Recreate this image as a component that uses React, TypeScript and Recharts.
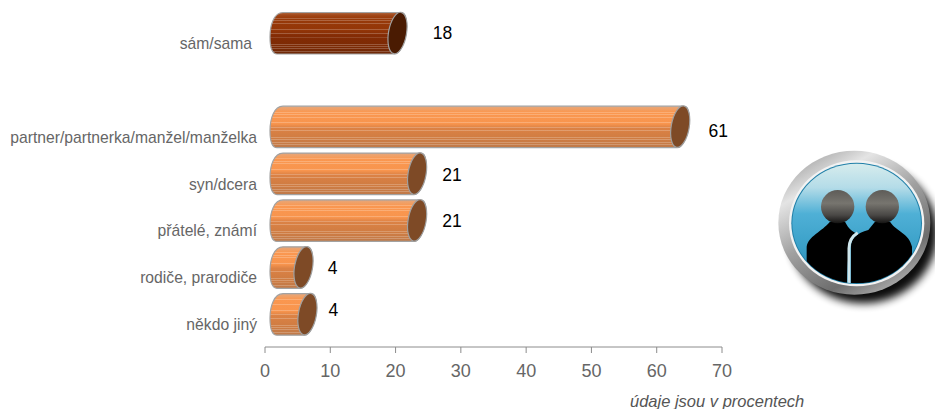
import { BarChart, Bar, XAxis, YAxis, LabelList } from "recharts";

const categories = ["sám/sama", "", "partner/partnerka/manžel/manželka", "syn/dcera", "přátelé, známí", "rodiče, prarodiče", "někdo jiný"];
const shares = [18, null, 61.3, 21, 21, 3.6, 4.2];
const xTicks = [0, 10, 20, 30, 40, 50, 60, 70];

const data = categories.map((name, i) => ({ name, value: shares[i] }));

const FONT = '"Liberation Sans", Arial, sans-serif';
// label placement next to the cylinders (labelled bars only, the empty row has no label)
const labelDx = [60, 53, 50, 50, 44, 41];
const labelDy = [0, 4, 1, 1, 1, -4];

const stripeOffsets = [0.13, 0.19, 0.25, 0.39, 0.5, 0.58, 0.75, 0.8, 0.86, 0.92];

const orangeStops: [number, string][] = [
  [0, "#e3a77e"], [0.07, "#f0a066"], [0.14, "#fa9750"], [0.42, "#f8954e"], [0.52, "#dc8245"], [0.78, "#cf7c42"], [1, "#bf7a4a"],
];
const brownStops: [number, string][] = [
  [0, "#ad6a44"], [0.06, "#a2481a"], [0.14, "#983a0a"], [0.42, "#933608"], [0.55, "#842c05"], [0.85, "#7a2904"], [1, "#6d2808"],
];

function Cylinder(props: any) {
  const { x, y, width, height, payload, index } = props;
  if (payload.value == null) return null;
  const dark = index === 0;
  const top = y + 0.5;
  const bot = y + height;
  const mid = y + height / 2;
  const left = x + 5;
  const cx = x + width + 15;
  const d = `M${left + 13},${top} L${cx + 4},${top} C${cx + 14},${top} ${cx + 8},${bot} ${cx - 3},${bot} L${left + 7},${bot} C${left + 1},${bot} ${left},${mid + 12} ${left},${mid + 4} C${left},${mid - 8} ${left + 4},${top} ${left + 13},${top} Z`;
  return (
    <g>
      <path d={d} fill={dark ? "url(#brownBody)" : "url(#orangeBody)"} />
      <path d={d} fill="url(#stripes)" stroke="#a2a2a2" strokeWidth={1.2} />
      <ellipse
        cx={cx}
        cy={mid}
        rx={9}
        ry={21}
        transform={`rotate(10 ${cx} ${mid})`}
        fill={dark ? "#4a1b02" : "#7e4a26"}
        stroke="#a0a0a0"
        strokeWidth={1.2}
      />
    </g>
  );
}

function ValueLabel(props: any) {
  const { x, y, width, height, value, index } = props;
  if (value == null) return null;
  return (
    <text
      x={x + width + labelDx[index]}
      y={y + height / 2 + labelDy[index]}
      textAnchor="middle"
      dominantBaseline="central"
      fontFamily={FONT}
      fontSize={17.5}
      fill="#000"
    >
      {Math.round(value)}
    </text>
  );
}

function CategoryTick(props: any) {
  const { x, y, payload, index } = props;
  return (
    <text
      x={x - (index === 0 ? 5 : 0)}
      y={y + 10}
      textAnchor="end"
      dominantBaseline="central"
      fontFamily={FONT}
      fontSize={15.7}
      fill="#666"
    >
      {payload.value}
    </text>
  );
}

function PeopleIcon() {
  return (
    <svg
      width={170}
      height={170}
      viewBox="0 0 510 510"
      style={{ position: "absolute", left: 765, top: 150 }}
    >
      <defs>
        <linearGradient id="ring" x1="0.15" y1="0" x2="0.75" y2="1">
          <stop offset="0" stopColor="#9a9a9a" />
          <stop offset="0.22" stopColor="#e4e4e4" />
          <stop offset="0.5" stopColor="#a0a0a0" />
          <stop offset="0.8" stopColor="#6e6e6e" />
          <stop offset="1" stopColor="#b4b4b4" />
        </linearGradient>
        <linearGradient id="glass" x1="0" y1="0" x2="0" y2="1">
          <stop offset="0" stopColor="#d6eced" />
          <stop offset="0.2" stopColor="#b4dce8" />
          <stop offset="0.42" stopColor="#4fb0d6" />
          <stop offset="0.7" stopColor="#3aa0c8" />
          <stop offset="1" stopColor="#2a86b0" />
        </linearGradient>
        <linearGradient id="head" x1="0" y1="0" x2="0" y2="1">
          <stop offset="0" stopColor="#5e5c58" />
          <stop offset="0.4" stopColor="#77756f" />
          <stop offset="0.75" stopColor="#4a4846" />
          <stop offset="1" stopColor="#141312" />
        </linearGradient>
        <filter id="blur" x="-20%" y="-20%" width="140%" height="140%">
          <feGaussianBlur stdDeviation="13" />
        </filter>
        <clipPath id="glassClip">
          <ellipse cx={275} cy={220} rx={194} ry={180} />
        </clipPath>
      </defs>
      <ellipse cx={295} cy={250} rx={222} ry={210} fill="#000" opacity={0.95} filter="url(#blur)" />
      <ellipse cx={268} cy={218} rx={228} ry={216} fill="url(#ring)" />
      <ellipse cx={275} cy={220} rx={203} ry={189} fill="#f2f2f2" />
      <ellipse cx={275} cy={220} rx={196} ry={182} fill="#1f7fa8" />
      <ellipse cx={275} cy={220} rx={193} ry={179} fill="url(#glass)" />
      <g clipPath="url(#glassClip)">
        <path
          d="M125,400 L125,290 C130,258 170,245 195,215 L240,215 C250,235 262,245 275,250 C258,262 248,285 246,400 Z"
          fill="#000"
        />
        <path
          d="M258,400 L258,290 C258,265 275,250 310,240 L330,215 L375,215 C395,245 432,250 441,290 L441,400 Z"
          fill="#000"
        />
        <path d="M252,400 L252,295 C252,272 262,258 278,248" fill="none" stroke="#cfe6ec" strokeWidth={9} />
      </g>
      <circle cx={218} cy={170} r={50} fill="url(#head)" />
      <circle cx={352} cy={170} r={50} fill="url(#head)" />
    </svg>
  );
}

export default function App() {
  return (
    <div style={{ position: "absolute", left: 0, top: 0, width: 935, height: 409, background: "#fff", overflow: "hidden" }}>
      <BarChart
        width={935}
        height={409}
        data={data}
        layout="vertical"
        margin={{ top: 10, right: 213, bottom: 32, left: 0 }}
      >
        <defs>
          <linearGradient id="orangeBody" x1="0" y1="0" x2="0" y2="1">
            {orangeStops.map(([o, c], i) => (
              <stop key={i} offset={o} stopColor={c} />
            ))}
          </linearGradient>
          <linearGradient id="brownBody" x1="0" y1="0" x2="0" y2="1">
            {brownStops.map(([o, c], i) => (
              <stop key={i} offset={o} stopColor={c} />
            ))}
          </linearGradient>
          <linearGradient id="stripes" x1="0" y1="0" x2="0" y2="1">
            {stripeOffsets.flatMap((s, i) => [
              <stop key={i + "a"} offset={s} stopColor="#fff" stopOpacity={0} />,
              <stop key={i + "b"} offset={s + 0.001} stopColor="#fff" stopOpacity={0.22} />,
              <stop key={i + "c"} offset={s + 0.022} stopColor="#fff" stopOpacity={0.22} />,
              <stop key={i + "d"} offset={s + 0.023} stopColor="#fff" stopOpacity={0} />,
            ])}
          </linearGradient>
        </defs>
        <XAxis
          type="number"
          domain={[0, 70]}
          ticks={xTicks}
          interval={0}
          height={30}
          tickSize={6}
          tickMargin={11}
          stroke="#8c8c8c"
          tick={{ fill: "#666", fontSize: 18, fontFamily: FONT }}
        />
        <YAxis
          type="category"
          dataKey="name"
          width={265}
          interval={0}
          axisLine={false}
          tickLine={false}
          tickSize={0}
          tickMargin={8}
          padding={{ top: 0, bottom: 9 }}
          tick={<CategoryTick />}
        />
        <Bar dataKey="value" barSize={42} isAnimationActive={false} shape={<Cylinder />}>
          <LabelList dataKey="value" content={<ValueLabel />} />
        </Bar>
      </BarChart>
      <PeopleIcon />
      <div
        style={{
          position: "absolute",
          left: 630,
          top: 392,
          fontFamily: FONT,
          fontStyle: "italic",
          fontSize: 16.5,
          lineHeight: "19px",
          color: "#555",
          whiteSpace: "nowrap",
        }}
      >
        údaje jsou v procentech
      </div>
    </div>
  );
}
